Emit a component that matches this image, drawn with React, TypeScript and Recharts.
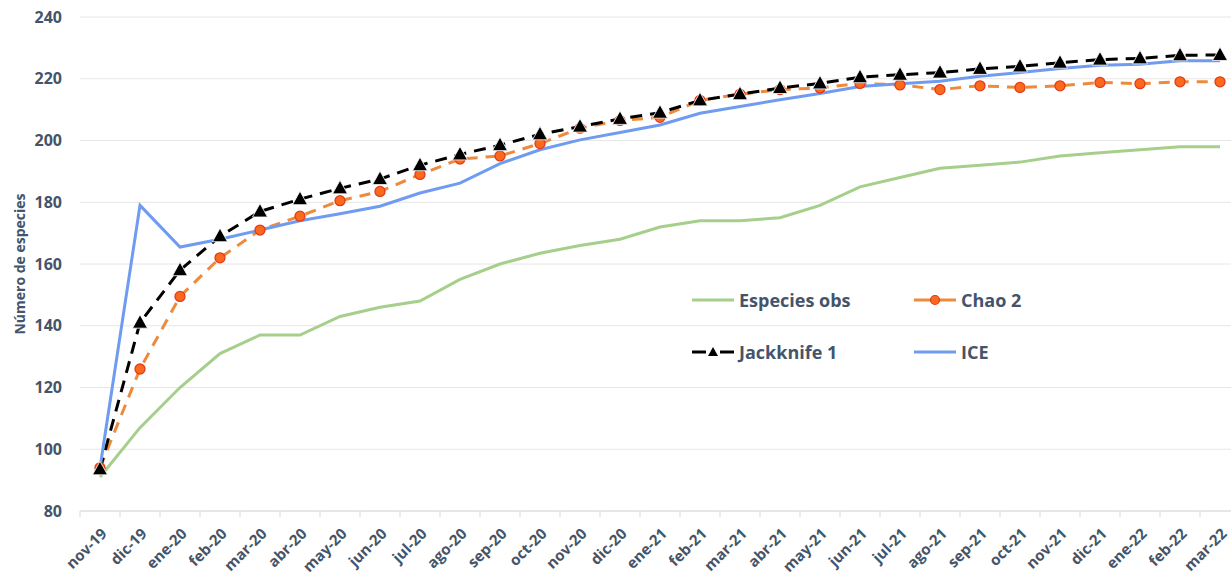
import React from 'react';
import {
  LineChart,
  Line,
  XAxis,
  YAxis,
  CartesianGrid,
  Legend
} from 'recharts';

const months = [
  'nov-19', 'dic-19', 'ene-20', 'feb-20', 'mar-20', 'abr-20', 'may-20', 'jun-20', 'jul-20', 'ago-20',
  'sep-20', 'oct-20', 'nov-20', 'dic-20', 'ene-21', 'feb-21', 'mar-21', 'abr-21', 'may-21', 'jun-21',
  'jul-21', 'ago-21', 'sep-21', 'oct-21', 'nov-21', 'dic-21', 'ene-22', 'feb-22', 'mar-22'
];

const especiesObs = [
  91, 107, 120, 131, 137, 137, 143, 146, 148, 155,
  160, 163.5, 166, 168, 172, 174, 174, 175, 179, 185,
  188, 191, 192, 193, 195, 196, 197, 198, 198
];

const chao2 = [
  94, 126, 149.5, 162, 171, 175.5, 180.5, 183.5, 189, 194,
  195, 199, 204, 206.5, 207.5, 213, 215, 216.5, 217, 218.5,
  218, 216.5, 217.7, 217.2, 217.7, 218.8, 218.4, 219, 219
];

const jackknife1 = [
  93.5, 141, 158, 169, 177, 181, 184.5, 187.5, 192, 195.5,
  198.5, 202, 204.5, 207, 209, 213, 215, 217, 218.5, 220.5,
  221.3, 222, 223.2, 224, 225.2, 226.2, 226.6, 227.6, 227.7
];

const ice = [
  94, 179, 165.5, 168, 171, 174, 176.3, 178.7, 183, 186.2,
  192.5, 197, 200.2, 202.6, 205, 208.8, 211, 213.2, 215.2, 217.5,
  218.4, 219.2, 220.8, 222, 223.3, 224.4, 224.7, 225.8, 225.8
];

const yTicks = [80, 100, 120, 140, 160, 180, 200, 220, 240];

const data = months.map((m, i) => ({
  month: m,
  obs: especiesObs[i],
  chao: chao2[i],
  jack: jackknife1[i],
  ice: ice[i]
}));

const textColor = '#44546a';
const fontFamily = '"Open Sans", sans-serif';
const green = '#a5cf8a';
const orange = '#ee8a3c';
const dotFill = '#fb6a1c';
const dotStroke = '#e43a1a';
const blue = '#6f9cf0';
const bandHalf = 20;

const XTick = (props: any) => {
  const { x, y, payload } = props;
  return (
    <g>
      <line x1={x - bandHalf} y1={y - 8} x2={x - bandHalf} y2={y - 2} stroke="#d9d9d9" strokeWidth={1} />
      <g transform={`translate(${x + 4},${y + 12})`}>
        <text
          x={0}
          y={0}
          dy="0.35em"
          textAnchor="end"
          transform="rotate(-45)"
          fill={textColor}
          fontSize={15}
          fontWeight={700}
          fontFamily={fontFamily}
        >
          {payload.value}
        </text>
      </g>
    </g>
  );
};

const TriangleDot = (props: any) => {
  const { cx, cy, index } = props;
  if (cx == null || cy == null) return null;
  return (
    <polygon
      key={`tri-${index}`}
      points={`${cx},${cy - 8} ${cx - 7.5},${cy + 5.5} ${cx + 7.5},${cy + 5.5}`}
      fill="#000"
      stroke="#fff"
      strokeWidth={0.8}
    />
  );
};

const legendItems = [
  { label: 'Especies obs', kind: 'obs' },
  { label: 'Chao 2', kind: 'chao' },
  { label: 'Jackknife 1', kind: 'jack' },
  { label: 'ICE', kind: 'ice' }
];

const LegendIcon = ({ kind }: { kind: string }) => (
  <svg width={42} height={14} style={{ marginRight: 5 }}>
    {kind === 'obs' && <line x1={0} y1={7} x2={42} y2={7} stroke={green} strokeWidth={3} />}
    {kind === 'ice' && <line x1={0} y1={7} x2={42} y2={7} stroke={blue} strokeWidth={3} />}
    {kind === 'chao' && (
      <g>
        <line x1={0} y1={7} x2={42} y2={7} stroke={orange} strokeWidth={3} />
        <circle cx={21} cy={7} r={4.5} fill={dotFill} stroke={dotStroke} strokeWidth={1.2} />
      </g>
    )}
    {kind === 'jack' && (
      <g>
        <line x1={0} y1={7} x2={14} y2={7} stroke="#000" strokeWidth={3} />
        <line x1={28} y1={7} x2={42} y2={7} stroke="#000" strokeWidth={3} />
        <polygon points="21,2 16,11 26,11" fill="#000" />
      </g>
    )}
  </svg>
);

const renderLegend = () => (
  <div
    style={{
      display: 'grid',
      gridTemplateColumns: '222px 120px',
      rowGap: 26,
      fontFamily,
      fontWeight: 700,
      fontSize: 18,
      color: textColor
    }}
  >
    {legendItems.map(it => (
      <div key={it.kind} style={{ display: 'flex', alignItems: 'center', height: 26 }}>
        <LegendIcon kind={it.kind} />
        <span>{it.label}</span>
      </div>
    ))}
  </div>
);

export default function App() {
  return (
    <div
      style={{
        position: 'absolute',
        left: 0,
        top: 0,
        width: 1231,
        height: 577,
        overflow: 'hidden',
        background: '#fff'
      }}
    >
      <LineChart
        width={1250}
        height={577}
        data={data}
        margin={{ top: 17, right: 10, left: 0, bottom: 0 }}
      >
        <CartesianGrid stroke="#e6e6e6" vertical={false} />
        <XAxis
          dataKey="month"
          interval={0}
          height={66}
          padding={{ left: bandHalf, right: bandHalf }}
          axisLine={{ stroke: '#d9d9d9' }}
          tickLine={false}
          tick={<XTick />}
        />
        <YAxis
          width={80}
          domain={[80, 240]}
          ticks={yTicks}
          axisLine={false}
          tickLine={false}
          tickSize={0}
          tickMargin={18}
          tick={{ fill: textColor, fontSize: 16, fontWeight: 700, fontFamily }}
          label={{
            value: 'Número de especies',
            angle: -90,
            position: 'insideLeft',
            offset: 20,
            style: { fill: textColor, fontSize: 14, fontWeight: 700, fontFamily, textAnchor: 'middle' }
          }}
        />
        <Legend
          layout="horizontal"
          verticalAlign="middle"
          content={renderLegend}
          wrapperStyle={{ left: 692, top: 287, width: 360 }}
        />
        <Line
          type="linear"
          dataKey="obs"
          name="Especies obs"
          stroke={green}
          strokeWidth={3}
          dot={false}
          isAnimationActive={false}
        />
        <Line
          type="linear"
          dataKey="chao"
          name="Chao 2"
          stroke={orange}
          strokeWidth={3}
          strokeDasharray="11 8"
          dot={{ r: 5, fill: dotFill, stroke: dotStroke, strokeWidth: 1.3, strokeDasharray: '' }}
          isAnimationActive={false}
        />
        <Line
          type="linear"
          dataKey="jack"
          name="Jackknife 1"
          stroke="#000"
          strokeWidth={3}
          strokeDasharray="12 8"
          dot={TriangleDot}
          isAnimationActive={false}
        />
        <Line
          type="linear"
          dataKey="ice"
          name="ICE"
          stroke={blue}
          strokeWidth={3}
          dot={false}
          isAnimationActive={false}
        />
      </LineChart>
    </div>
  );
}
